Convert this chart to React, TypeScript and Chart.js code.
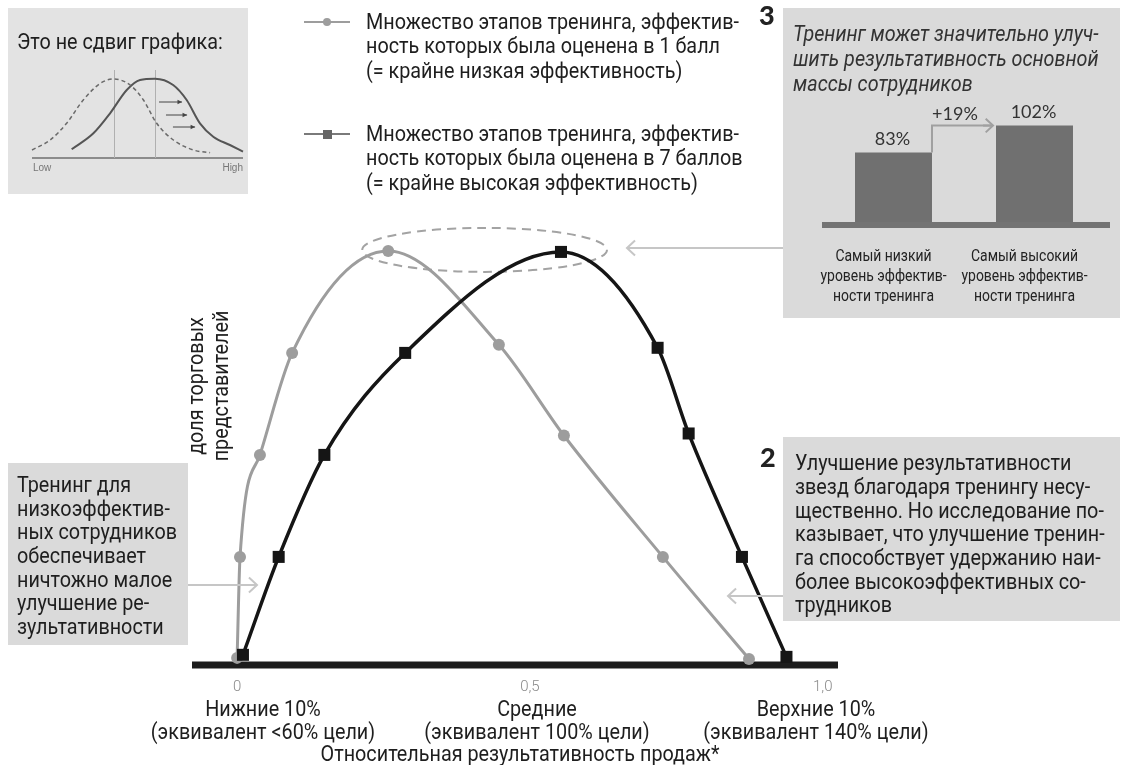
import React, { useEffect, useRef } from "react";
import { Chart, registerables } from "chart.js";

Chart.register(...registerables);

const FONT = '"Roboto", "DejaVu Sans", sans-serif';
const NUM_FONT = '"Lato", "Open Sans", sans-serif';
const TEXT_SIZE = 21.5;
const TEXT_SX = 0.92;

// Share of sales reps across relative sales performance
const lowRatedX = [0.0, 0.005, 0.039, 0.094, 0.258, 0.447, 0.558, 0.727, 0.874];
const lowRatedY = [0.06, 1.05, 2.05, 3.05, 4.05, 3.13, 2.24, 1.05, 0.05];
const highRatedX = [0.01, 0.071, 0.149, 0.287, 0.553, 0.718, 0.771, 0.862, 0.938];
const highRatedY = [0.09, 1.05, 2.05, 3.05, 4.04, 3.1, 2.26, 1.05, 0.07];

const axisTickValues = [0, 0.5, 1];
const axisTickLabels = ["0", "0,5", "1,0"];

// Inset bar chart: result by training rating
const barCategories = [
  ["Самый низкий", "уровень эффектив-", "ности тренинга"],
  ["Самый высокий", "уровень эффектив-", "ности тренинга"],
];
const barValues = [83, 102];

// Inset sketch: two bell curves (Low .. High)
const dashedX = [0, 8.6, 16.4, 24.3, 32.4, 38.7, 46.5, 52.8, 59.1, 67, 76.5, 84.4];
const dashedY = [8, 18, 34.7, 58, 74.7, 79, 73, 58, 34.7, 18, 8, 5.3];
const solidX = [18.8, 29.1, 37, 44.9, 51.2, 58.3, 66.9, 73.3, 79.6, 85.9, 93.8, 100];
const solidY = [8.7, 24.7, 44.7, 68, 78, 79.3, 73, 58, 34.7, 21.3, 13, 6.3];

const GRAY = "#9d9d9d";
const BLACK = "#151515";
const BOX = "#dadada";

function toPoints(xs: number[], ys: number[]) {
  return xs.map((x, i) => ({ x, y: ys[i] }));
}

function arrow(
  ctx: CanvasRenderingContext2D,
  x1: number, y1: number, x2: number, y2: number,
  head: number, color: string, width: number, filled = false
) {
  ctx.save();
  ctx.strokeStyle = color;
  ctx.fillStyle = color;
  ctx.lineWidth = width;
  ctx.setLineDash([]);
  ctx.beginPath();
  ctx.moveTo(x1, y1);
  ctx.lineTo(x2, y2);
  ctx.stroke();
  const a = Math.atan2(y2 - y1, x2 - x1);
  const spread = filled ? 0.45 : 0.75;
  ctx.beginPath();
  ctx.moveTo(x2 - head * Math.cos(a - spread), y2 - head * Math.sin(a - spread));
  ctx.lineTo(x2, y2);
  ctx.lineTo(x2 - head * Math.cos(a + spread), y2 - head * Math.sin(a + spread));
  if (filled) {
    ctx.closePath();
    ctx.fill();
  } else {
    ctx.stroke();
  }
  ctx.restore();
}

function peakIndex(ys: number[]) {
  let k = 0;
  ys.forEach((v, i) => { if (v > ys[k]) k = i; });
  return k;
}

function MainChart() {
  const ref = useRef<HTMLCanvasElement>(null);
  useEffect(() => {
    const decor = {
      id: "decor",
      beforeDatasetsDraw(chart: any) {
        const { ctx, chartArea, scales } = chart;
        const x = scales.x, y = scales.y;
        // thick baseline
        const y0 = y.getPixelForValue(0) + 1;
        ctx.save();
        ctx.fillStyle = "#1c1c1c";
        ctx.fillRect(chartArea.left, y0 - 3.5, chartArea.right - chartArea.left, 7);
        // dashed ring around the two peaks
        const gi = peakIndex(lowRatedY), bi = peakIndex(highRatedY);
        const gx = x.getPixelForValue(lowRatedX[gi]);
        const bx = x.getPixelForValue(highRatedX[bi]);
        const py = Math.min(y.getPixelForValue(lowRatedY[gi]), y.getPixelForValue(highRatedY[bi]));
        const cx = (gx + bx) / 2 + 10;
        const rx = (bx - gx) / 2 + 36;
        ctx.strokeStyle = "#a3a3a3";
        ctx.lineWidth = 2;
        ctx.setLineDash([9, 6]);
        ctx.beginPath();
        ctx.ellipse(cx, py - 1, rx, 22, 0, 0, Math.PI * 2);
        ctx.stroke();
        ctx.restore();
        chart.$ring = { cx, cy: py - 1, rx };
      },
      afterDraw(chart: any) {
        const { ctx, scales } = chart;
        const x = scales.x;
        ctx.save();
        ctx.font = `300 15px ${FONT}`;
        ctx.fillStyle = "#8a8a8a";
        ctx.textAlign = "center";
        ctx.textBaseline = "middle";
        axisTickValues.forEach((v, i) => {
          ctx.fillText(axisTickLabels[i], x.getPixelForValue(v), 687);
        });
        ctx.restore();
        const ring = chart.$ring;
        const lc = "#c6c6c6";
        arrow(ctx, 783, ring.cy - 2, ring.cx + ring.rx + 20, ring.cy - 2, 11, lc, 2);
        arrow(ctx, 188, 585, 257, 585, 11, lc, 2);
        arrow(ctx, 783, 596, 728, 596, 11, lc, 2);
      },
    };
    const chart = new Chart(ref.current!, {
      type: "line",
      data: {
        datasets: [
          {
            label: "7 баллов",
            data: toPoints(highRatedX, highRatedY),
            borderColor: BLACK,
            backgroundColor: BLACK,
            borderWidth: 3.5,
            pointStyle: "rect",
            pointRadius: 8.5,
            pointBorderWidth: 0,
            pointBackgroundColor: BLACK,
            cubicInterpolationMode: "monotone",
            clip: false,
            order: 0,
          },
          {
            label: "1 балл",
            data: toPoints(lowRatedX, lowRatedY),
            borderColor: GRAY,
            backgroundColor: GRAY,
            borderWidth: 3,
            pointStyle: "circle",
            pointRadius: 6,
            pointBorderWidth: 0,
            pointBackgroundColor: GRAY,
            cubicInterpolationMode: "monotone",
            clip: false,
            order: 1,
          },
        ],
      },
      options: {
        animation: false,
        responsive: false,
        events: [],
        layout: { padding: { left: 192, right: 290, top: 205, bottom: 101 } },
        scales: {
          x: { type: "linear", min: -0.077, max: 1.026, display: false },
          y: { type: "linear", min: 0, max: 4.5, display: false },
        },
        plugins: { legend: { display: false }, tooltip: { enabled: false } },
      },
      plugins: [decor],
    });
    return () => chart.destroy();
  }, []);
  return (
    <canvas
      ref={ref}
      width={1128}
      height={765}
      style={{ position: "absolute", left: 0, top: 0, width: 1128, height: 765 }}
    />
  );
}

function BarInset() {
  const ref = useRef<HTMLCanvasElement>(null);
  useEffect(() => {
    const labels = {
      id: "barLabels",
      afterDatasetsDraw(chart: any) {
        const { ctx, chartArea, scales } = chart;
        const y = scales.y, x = scales.x;
        const bars = chart.getDatasetMeta(0).data;
        ctx.save();
        // base strip
        ctx.fillStyle = "#737373";
        const yb = y.getPixelForValue(y.min);
        ctx.fillRect(chartArea.left - 1, yb - 3, chartArea.right - chartArea.left + 6, 6);
        // values
        ctx.font = `18px ${NUM_FONT}`;
        ctx.fillStyle = "#333";
        ctx.textAlign = "center";
        ctx.textBaseline = "alphabetic";
        bars.forEach((b: any, i: number) => {
          ctx.fillText(`${barValues[i]}%`, b.x - 1, b.y - 8);
        });
        // step arrow with difference
        const b0 = bars[0], b1 = bars[1];
        const sx = b0.x + b0.width / 2;
        const ex = b1.x - b1.width / 2 - 3;
        ctx.strokeStyle = "#a0a0a0";
        ctx.lineWidth = 2;
        ctx.beginPath();
        ctx.moveTo(sx, b0.y);
        ctx.lineTo(sx, b1.y);
        ctx.lineTo(ex, b1.y);
        ctx.stroke();
        ctx.restore();
        arrow(ctx, ex - 10, b1.y, ex, b1.y, 10, "#a0a0a0", 2);
        ctx.save();
        ctx.font = `18px ${NUM_FONT}`;
        ctx.fillStyle = "#333";
        ctx.textAlign = "center";
        ctx.fillText(`+${barValues[1] - barValues[0]}%`, sx + 23, b1.y - 6);
        // category captions (narrowed)
        ctx.font = `17px ${FONT}`;
        ctx.fillStyle = "#222";
        ctx.textBaseline = "middle";
        barCategories.forEach((lines, i) => {
          const cx = x.getPixelForValue(i) - 10;
          lines.forEach((s, j) => {
            ctx.save();
            ctx.translate(cx, chartArea.bottom + 32 + j * 20);
            ctx.scale(0.82, 1);
            ctx.fillText(s, 0, 0);
            ctx.restore();
          });
        });
        ctx.restore();
      },
    };
    const chart = new Chart(ref.current!, {
      type: "bar",
      data: {
        labels: barCategories,
        datasets: [
          {
            data: barValues,
            backgroundColor: "#707070",
            borderWidth: 0,
            categoryPercentage: 1,
            barPercentage: 0.546,
          },
        ],
      },
      options: {
        animation: false,
        responsive: false,
        events: [],
        layout: { padding: { left: 38, right: 15, top: 10, bottom: 93 } },
        scales: {
          x: { display: false },
          y: { min: 32, max: 120, display: false },
        },
        plugins: { legend: { display: false }, tooltip: { enabled: false } },
      },
      plugins: [labels],
    });
    return () => chart.destroy();
  }, []);
  return (
    <canvas
      ref={ref}
      width={335}
      height={228}
      style={{ position: "absolute", left: 785, top: 90, width: 335, height: 228 }}
    />
  );
}

function ShiftSketch() {
  const ref = useRef<HTMLCanvasElement>(null);
  useEffect(() => {
    const deco = {
      id: "sketch",
      beforeDatasetsDraw(chart: any) {
        const { ctx, chartArea, scales } = chart;
        const x = scales.x, y = scales.y;
        const y0 = y.getPixelForValue(0);
        ctx.save();
        ctx.strokeStyle = "#8c8c8c";
        ctx.lineWidth = 2;
        ctx.beginPath();
        ctx.moveTo(chartArea.left, y0);
        ctx.lineTo(chartArea.right, y0);
        ctx.stroke();
        ctx.strokeStyle = "#b0b0b0";
        ctx.lineWidth = 1;
        [dashedX[peakIndex(dashedY)], solidX[peakIndex(solidY)]].forEach((v) => {
          const px = Math.round(x.getPixelForValue(v)) + 0.5;
          ctx.beginPath();
          ctx.moveTo(px, y0);
          ctx.lineTo(px, y.getPixelForValue(88));
          ctx.stroke();
        });
        ctx.restore();
        const arrows = [
          [60.2, 71.1, 56],
          [63.5, 73.5, 43],
          [66.8, 77.3, 31],
        ];
        arrows.forEach(([a, b, v]) => {
          arrow(ctx, x.getPixelForValue(a), y.getPixelForValue(v), x.getPixelForValue(b), y.getPixelForValue(v), 5, "#444", 1, true);
        });
      },
    };
    const chart = new Chart(ref.current!, {
      type: "line",
      data: {
        datasets: [
          {
            data: toPoints(dashedX, dashedY),
            borderColor: "#6a6a6a",
            borderWidth: 1.5,
            borderDash: [4, 3],
            pointRadius: 0,
            cubicInterpolationMode: "monotone",
            clip: false,
          },
          {
            data: toPoints(solidX, solidY),
            borderColor: "#555",
            borderWidth: 2,
            pointRadius: 0,
            cubicInterpolationMode: "monotone",
            clip: false,
          },
        ],
      },
      options: {
        animation: false,
        responsive: false,
        events: [],
        layout: { padding: { left: 10, right: 10, top: 0, bottom: 10 } },
        scales: {
          x: { type: "linear", min: 0, max: 100, display: false },
          y: { type: "linear", min: 0, max: 98, display: false },
        },
        plugins: { legend: { display: false }, tooltip: { enabled: false } },
      },
      plugins: [deco],
    });
    return () => chart.destroy();
  }, []);
  return (
    <canvas
      ref={ref}
      width={231}
      height={108}
      style={{ position: "absolute", left: 22, top: 60, width: 231, height: 108 }}
    />
  );
}

type LabelProps = {
  lines: string[];
  cy: number;
  left?: number;
  center?: number;
  right?: number;
  size?: number;
  lh?: number;
  sx?: number;
  color?: string;
  weight?: number;
  italic?: boolean;
  family?: string;
};

function Label(p: LabelProps) {
  const size = p.size ?? TEXT_SIZE;
  const lh = p.lh ?? 23.5;
  const sx = p.sx ?? TEXT_SX;
  const style: React.CSSProperties = {
    position: "absolute",
    top: p.cy - lh / 2,
    fontFamily: p.family ?? FONT,
    fontSize: size,
    lineHeight: `${lh}px`,
    color: p.color ?? "#1e1e1e",
    fontWeight: p.weight ?? 400,
    fontStyle: p.italic ? "italic" : "normal",
    whiteSpace: "pre",
    transform: sx !== 1 ? `scaleX(${sx})` : undefined,
  };
  if (p.center !== undefined) {
    style.left = p.center - 300;
    style.width = 600;
    style.textAlign = "center";
    style.transformOrigin = "center";
  } else if (p.right !== undefined) {
    style.right = 1128 - p.right;
    style.textAlign = "right";
    style.transformOrigin = "right";
  } else {
    style.left = p.left;
    style.transformOrigin = "left";
  }
  return <div style={style}>{p.lines.join("\n")}</div>;
}

function Box({ l, t, w, h, bg }: { l: number; t: number; w: number; h: number; bg?: string }) {
  return <div style={{ position: "absolute", left: l, top: t, width: w, height: h, background: bg ?? BOX }} />;
}

function LegendMark({ y, kind }: { y: number; kind: "circle" | "rect" }) {
  const c = kind === "circle" ? GRAY : "#666";
  return (
    <svg style={{ position: "absolute", left: 300, top: y - 8 }} width={56} height={16}>
      <line x1={4} y1={8} x2={50} y2={8} stroke={kind === "circle" ? GRAY : "#7a7a7a"} strokeWidth={2} />
      {kind === "circle" ? <circle cx={27} cy={8} r={4} fill={c} /> : <rect x={23} y={4} width={9} height={9} fill={c} />}
    </svg>
  );
}

export default function App() {
  useEffect(() => {
    document.body.style.margin = "0";
  }, []);
  return (
    <div
      style={{
        position: "absolute",
        left: 0,
        top: 0,
        width: 1128,
        height: 765,
        overflow: "hidden",
        background: "#fff",
        fontFamily: FONT,
      }}
    >
      <Box l={8} t={8} w={240} h={186} bg="#e3e3e3" />
      <Box l={783} t={8} w={337} h={310} />
      <Box l={8} t={463} w={180} h={182} />
      <Box l={783} t={437} w={337} h={184} />

      <MainChart />
      <BarInset />
      <ShiftSketch />

      <Label lines={["Это не сдвиг графика:"]} left={17} cy={42} />
      <Label lines={["Low"]} left={33} cy={168} size={10} lh={12} sx={1} color="#777" family='"Liberation Sans", Arial, sans-serif' />
      <Label lines={["High"]} right={243} cy={168} size={10} lh={12} sx={1} color="#777" family='"Liberation Sans", Arial, sans-serif' />

      <LegendMark y={22} kind="circle" />
      <LegendMark y={134} kind="rect" />
      <Label
        lines={["Множество этапов тренинга, эффектив-", "ность которых была оценена в 1 балл", "(= крайне низкая эффективность)"]}
        left={366}
        cy={22}
        lh={24.5}
      />
      <Label
        lines={["Множество этапов тренинга, эффектив-", "ность которых была оценена в 7 баллов", "(= крайне высокая эффективность)"]}
        left={366}
        cy={134}
        lh={24.5}
      />

      <Label lines={["3"]} left={759} cy={15} size={27} lh={28} sx={1} weight={900} family='"Lato", "Open Sans", sans-serif' color="#222" />
      <Label
        lines={["Тренинг может значительно улуч-", "шить результативность основной", "массы сотрудников"]}
        left={793}
        cy={33}
        lh={25}
        italic
        color="#333"
      />

      <Label
        lines={["Тренинг для", "низкоэффектив-", "ных сотрудников", "обеспечивает", "ничтожно малое", "улучшение ре-", "зультативности"]}
        left={17}
        cy={485}
        lh={23.6}
      />

      <Label lines={["2"]} left={760} cy={457} size={27} lh={28} sx={1} weight={900} family='"Lato", "Open Sans", sans-serif' color="#222" />
      <Label
        lines={[
          "Улучшение результативности",
          "звезд благодаря тренингу несу-",
          "щественно. Но исследование по-",
          "казывает, что улучшение тренин-",
          "га способствует удержанию наи-",
          "более высокоэффективных со-",
          "трудников",
        ]}
        left={795}
        cy={463}
        lh={23.7}
      />

      <div
        style={{
          position: "absolute",
          left: 108,
          top: 361,
          width: 200,
          height: 50,
          transform: `rotate(-90deg) scaleX(${TEXT_SX})`,
          textAlign: "center",
          fontSize: TEXT_SIZE,
          lineHeight: "25px",
          color: "#1e1e1e",
          whiteSpace: "pre",
        }}
      >
        {"доля торговых\nпредставителей"}
      </div>

      <Label lines={["Нижние 10%", "(эквивалент <60% цели)"]} center={263} cy={708} lh={23} />
      <Label lines={["Средние", "(эквивалент 100% цели)"]} center={537} cy={708} lh={23} />
      <Label lines={["Верхние 10%", "(эквивалент 140% цели)"]} center={816} cy={708} lh={23} />
      <Label lines={["Относительная результативность продаж*"]} center={520} cy={753} lh={23} />
    </div>
  );
}
